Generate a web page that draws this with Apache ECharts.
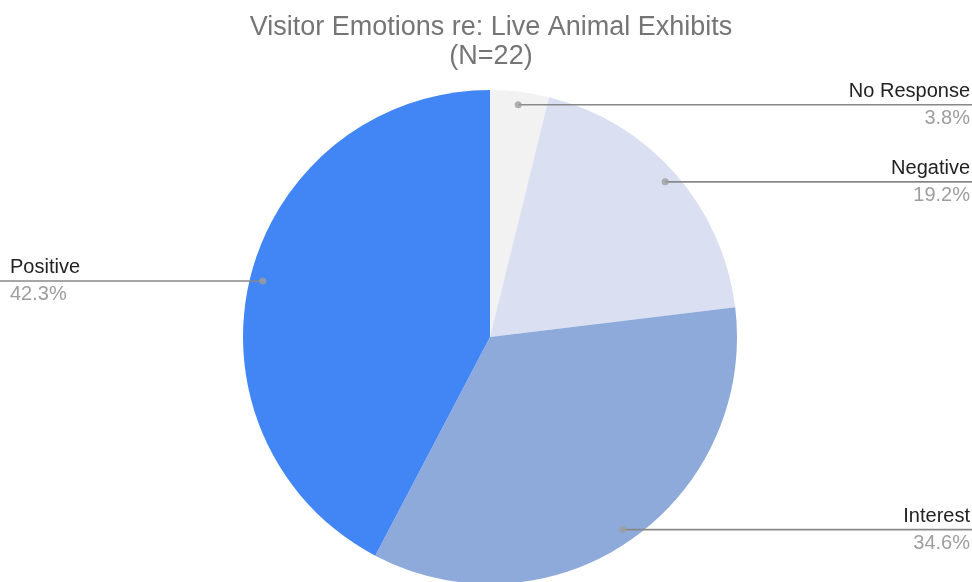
<!DOCTYPE html>
<html>
<head>
<meta charset="utf-8">
<script src="https://cdn.jsdelivr.net/npm/echarts@6/dist/echarts.min.js"></script>
<style>
  html, body { margin: 0; padding: 0; background: #ffffff; }
  #chart { width: 972px; height: 582px; }
</style>
</head>
<body>
<div id="chart"></div>
<script>
// Survey responses (count of coded responses per emotion category)
const categories = ['No Response', 'Negative', 'Interest', 'Positive'];
const counts = [1, 5, 9, 11];
const sliceColors = ['#f2f2f2', '#dae0f2', '#8eaadb', '#4285f4'];
const titleLines = ['Visitor Emotions re: Live Animal Exhibits', '(N=22)'];

const total = counts.reduce((a, b) => a + b, 0);
const percentText = counts.map(v => (v / total * 100).toFixed(1) + '%');

// angular midpoint (in value units) of every slice, for the leader-line dots
let running = 0;
const midValues = counts.map(v => { const m = running + v / 2; running += v; return m; });

const CENTER = [490, 337];
const RADIUS = 247;
const DOT_RADIUS = 234;
const LABEL_BOX = 220;
const FONT = '"Liberation Sans", Arial, Helvetica, sans-serif';

const chart = echarts.init(document.getElementById('chart'), null, { renderer: 'canvas' });

const labelData = categories.map((name, i) => {
  const item = { name: name, value: counts[i] };
  if (name === 'Positive') item.label = { edgeDistance: 10, distanceToLabelLine: -LABEL_BOX + 20 };
  return item;
});

chart.setOption({
  backgroundColor: '#ffffff',
  animation: false,
  title: {
    text: titleLines.join('\n'),
    left: 486,
    textAlign: 'center',
    top: 8,
    textStyle: { fontFamily: FONT, fontSize: 27, fontWeight: 'normal', color: '#757575', lineHeight: 29 }
  },
  polar: { center: CENTER, radius: RADIUS },
  angleAxis: { type: 'value', min: 0, max: total, startAngle: 90, clockwise: true, show: false },
  radiusAxis: { type: 'value', min: 0, max: RADIUS, show: false },
  series: [
    {
      type: 'pie',
      z: 1,
      center: CENTER,
      radius: RADIUS,
      startAngle: 90,
      clockwise: true,
      silent: true,
      label: { show: false },
      labelLine: { show: false },
      itemStyle: { borderWidth: 0 },
      data: categories.map((name, i) => ({ name: name, value: counts[i], itemStyle: { color: sliceColors[i] } }))
    },
    {
      // invisible ring that carries the edge-aligned labels and their leader lines
      type: 'pie',
      z: 3,
      center: CENTER,
      radius: DOT_RADIUS,
      startAngle: 90,
      clockwise: true,
      silent: true,
      itemStyle: { color: 'rgba(0,0,0,0)', borderWidth: 0 },
      labelLayout: { hideOverlap: false },
      label: {
        show: true,
        position: 'outside',
        alignTo: 'edge',
        edgeDistance: 2,
        width: LABEL_BOX,
        distanceToLabelLine: -LABEL_BOX,
        formatter: p => '{n|' + p.name + '}\n{p|' + percentText[p.dataIndex] + '}',
        rich: {
          n: { fontFamily: FONT, fontSize: 20, color: '#222222', lineHeight: 27 },
          p: { fontFamily: FONT, fontSize: 20, color: '#9e9e9e', lineHeight: 27 }
        }
      },
      labelLine: {
        show: true,
        length: 0,
        length2: 10,
        smooth: false,
        lineStyle: { color: '#888888', width: 1.6 }
      },
      data: labelData
    },
    {
      type: 'scatter',
      coordinateSystem: 'polar',
      z: 4,
      silent: true,
      symbol: 'circle',
      symbolSize: 7,
      itemStyle: { color: '#9e9e9e' },
      data: midValues.map(m => [DOT_RADIUS, m])
    }
  ]
});
</script>
</body>
</html>
